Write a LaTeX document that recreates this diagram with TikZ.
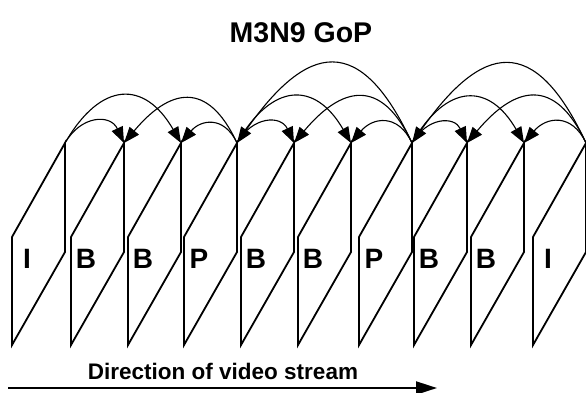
\documentclass[tikz,border=0pt]{standalone}
\usepackage{fontspec}
\setmainfont{Liberation Sans}
\usepackage{tikz}
\usetikzlibrary{arrows.meta,positioning,calc}

\begin{document}
\begin{tikzpicture}[
    x=1pt, y=1pt,
    frame/.style={draw, line width=1.8pt, line join=miter},
    lab/.style={font=\fontsize{28}{30}\selectfont\bfseries, inner sep=0pt},
    ttl/.style={font=\fontsize{28.5}{30}\selectfont\bfseries, inner sep=0pt},
    ref/.style={-{Triangle[length=16pt,width=12pt]}, line width=1.1pt},
    near/.style={ref, looseness=1.4},
    far/.style={ref, looseness=1.6},
    back/.style={ref, looseness=1.8},
    stream/.style={-{Triangle[length=21pt,width=13pt]}, line width=2pt}
]
    \useasboundingbox (0,0) rectangle (586,392);

    % Title
    \node[ttl] (title) at (301,359) {M3N9 GoP};

    % Frames
    \foreach \x/\lab [count=\i] in {12/I,71/B,128/B,184/P,241/B,298/B,359/P,414/B,471/B,533/I} {
        \draw[frame] (\x,155) -- (\x+53,249) -- (\x+53,140) -- (\x,47) -- cycle;
        \coordinate (t\i) at (\x+53,249);
        \node[lab] (f\i) at (\x+15,133) {\lab};
    }

    % References, first group
    \draw[near] (t1) to[out=60, in=115] (t2);
    \draw[far]  (t1) to[out=60, in=120] (t3);
    \draw[far]  (t4) to[out=115, in=50] (t2);
    \draw[near] (t4) to[out=115, in=50] (t3);

    % References, second group
    \draw[near] (t4) to[out=60, in=115] (t5);
    \draw[far]  (t4) to[out=60, in=120] (t6);
    \draw[far]  (t7) to[out=115, in=50] (t5);
    \draw[near] (t7) to[out=115, in=50] (t6);
    \draw[back] (t7) to[out=115, in=55] (t4);

    % References, third group
    \draw[near] (t7) to[out=60, in=115] (t8);
    \draw[far]  (t7) to[out=60, in=120] (t9);
    \draw[far]  (t10) to[out=115, in=50] (t8);
    \draw[near] (t10) to[out=115, in=50] (t9);
    \draw[back] (t10) to[out=115, in=55] (t7);

    % Stream direction
    \node[font=\fontsize{22.5}{24}\selectfont\bfseries, inner sep=0pt] (dir) at (223,21) {Direction of video stream};
    \coordinate (s0) at (8,4);
    \coordinate (s1) at (437,4);
    \draw[stream] (s0) -- (s1);
\end{tikzpicture}
\end{document}
